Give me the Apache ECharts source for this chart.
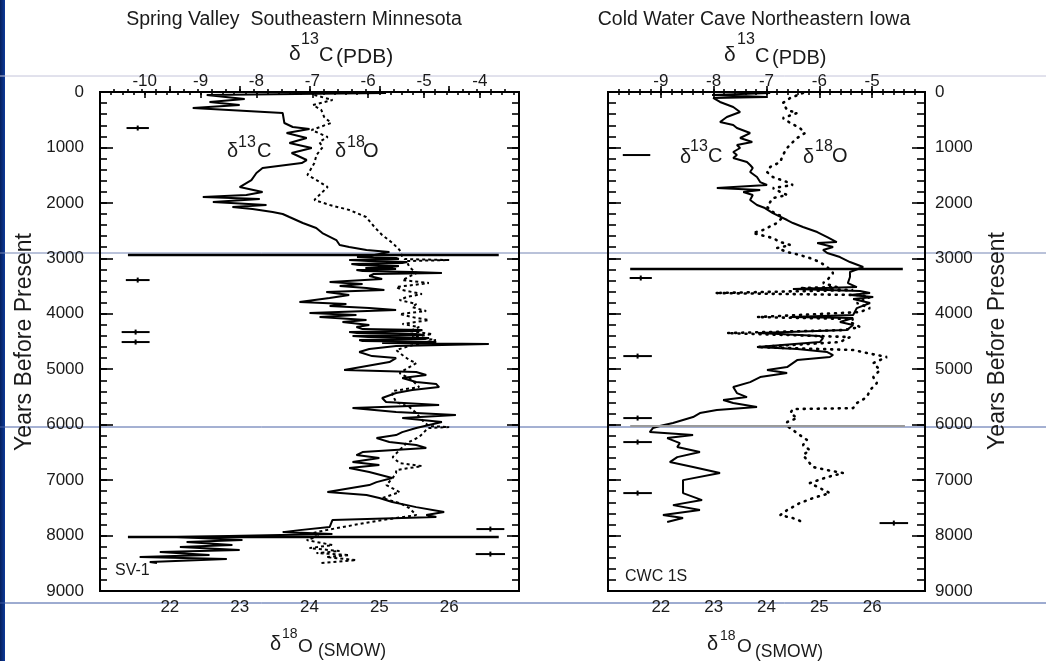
<!DOCTYPE html>
<html><head><meta charset="utf-8">
<script src="https://cdn.jsdelivr.net/npm/echarts@6/dist/echarts.min.js"></script>
<style>html,body{margin:0;padding:0;background:#fff}#c{width:1046px;height:661px}</style>
</head><body><div id="c"></div>
<script>
// ---------------- DATA ----------------
// [years before present, value]
const svC13 = [
[18,-5.68],[54,-8.89],[126,-8.21],[180,-8.84],[235,-8.30],[289,-9.14],[379,-7.53],[559,-7.50],[631,-7.35],[667,-7.05],[740,-7.46],[830,-7.10],[920,-7.41],[1010,-7.01],[1100,-7.37],[1227,-7.10],[1281,-7.19],[1371,-7.89],[1461,-8.00],[1588,-8.09],[1714,-8.30],[1804,-7.89],[1858,-8.18],[1894,-8.96],[1930,-7.94],[1984,-8.78],[2038,-7.82],[2074,-8.43],[2110,-8.07],[2164,-7.71],[2200,-7.53],[2255,-7.41],[2363,-7.17],[2453,-6.93],[2544,-6.82],[2670,-6.57],[2760,-6.51],[2796,-6.34],[2850,-6.03],[2886,-5.62],
[2959,-5.98],[2977,-6.20],[2995,-5.50],[3013,-5.45],[3031,-6.34],[3049,-6.00],[3067,-5.30],[3085,-5.39],[3103,-6.30],[3121,-6.16],[3139,-5.45],[3157,-5.57],[3175,-6.05],[3193,-5.50],[3211,-6.21],[3229,-6.10],[3247,-5.20],[3265,-4.68],[3283,-5.90],[3319,-5.98],[3373,-5.75],[3428,-6.69],[3464,-6.10],[3500,-6.51],[3536,-6.03],[3572,-5.71],[3608,-6.75],[3662,-6.34],[3716,-6.69],[3788,-7.23],[3824,-6.39],[3860,-6.69],[3897,-5.98],[3933,-5.50],[3987,-7.05],[4023,-6.21],[4059,-6.87],[4113,-6.03],[4149,-6.46],[4203,-5.98],[4239,-6.21],[4276,-6.10],[4294,-5.03],[4312,-5.10],[4330,-6.34],[4348,-6.20],[4366,-5.14],[4384,-5.00],[4402,-6.28],[4420,-6.00],[4438,-4.91],[4456,-5.00],[4474,-6.16],[4492,-6.10],[4510,-4.78],[4528,-5.75],[4546,-3.84],[4582,-5.50],[4636,-5.98],[4690,-6.16],[4763,-5.93],[4799,-5.50],[4871,-5.62],[5015,-6.43],[5051,-5.14],[5105,-4.96],[5159,-5.39],[5232,-5.14],[5268,-4.78],[5322,-4.73],[5376,-5.21],[5430,-5.50],[5520,-5.75],[5592,-5.68],[5647,-4.73],[5701,-6.28],[5773,-5.50],[5827,-4.43],[5881,-5.39],[5953,-4.68],[6007,-4.91],[6061,-5.14],[6134,-5.39],[6188,-5.50],[6242,-5.85],[6314,-5.62],[6368,-5.14],[6422,-4.96],[6494,-6.10],[6549,-6.21],[6603,-5.80],[6675,-6.28],[6729,-5.80],[6783,-6.34],[6855,-5.98],[6963,-5.57],[7036,-5.85],[7090,-5.98],[7216,-6.73],[7270,-6.03],[7324,-5.80],[7396,-5.57],[7487,-5.14],[7577,-4.64],[7631,-4.96],[7667,-4.78],[7721,-6.64],[7847,-6.69],[7902,-7.23],[7938,-7.53],[7974,-6.64],
[8028,-9.43],[8082,-8.25],[8118,-9.25],[8172,-8.43],[8208,-9.37],[8262,-8.30],[8298,-9.73],[8352,-8.84],[8389,-10.09],[8425,-8.53],[8479,-9.91],[8497,-9.78]
];
const svO18 = [
[54,24.07],[144,24.33],[234,24.05],[325,24.17],[451,24.21],[559,24.31],[685,24.03],[812,24.26],[902,24.14],[992,24.19],[1137,24.10],[1281,24.07],[1497,23.97],[1588,24.10],[1714,24.26],[1822,24.17],[1948,24.07],[2038,24.29],[2128,24.57],[2255,24.81],[2435,24.93],[2580,25.04],[2724,25.19],[2850,25.29],[2977,25.33],
[3013,25.36],[3031,26.00],[3049,25.39],[3157,25.43],[3265,25.53],[3392,25.33],[3446,25.71],[3518,25.24],[3572,25.33],[3644,25.61],[3698,25.39],[3752,25.29],[3824,25.53],[3879,25.47],[3951,25.67],[4005,25.29],[4059,25.47],[4113,25.71],[4185,25.33],[4239,25.57],[4312,25.43],[4366,25.76],[4420,25.47],[4474,25.81],[4528,25.61],[4582,25.43],[4654,25.24],[4744,25.33],[4835,25.43],[4889,25.53],[4961,25.43],[5069,25.29],[5196,25.47],[5322,25.57],[5394,25.19],[5466,25.19],[5592,25.24],[5683,25.43],[5791,25.53],[5917,25.61],[6025,25.71],[6043,26.00],[6061,25.70],[6097,25.67],[6224,25.57],[6332,25.39],[6458,25.29],[6585,25.19],[6693,25.29],[6747,25.61],[6819,25.24],[6873,25.24],[6963,25.19],[7090,25.10],[7216,25.29],[7324,25.04],[7414,25.29],[7505,25.43],[7631,25.53],[7721,25.04],[7793,24.71],[7847,24.47],[7902,24.24],[7956,24.04],[8010,24.14],[8082,23.96],[8172,24.33],[8226,24.00],[8280,24.43],[8316,24.10],[8352,24.57],[8389,24.24],[8443,24.67],[8497,24.14]
];
const cwcC13 = [
[18,-6.93],[54,-8.03],[90,-6.99],[108,-8.01],[180,-7.88],[271,-7.63],[361,-7.50],[451,-7.75],[541,-7.88],[595,-7.63],[649,-7.56],[740,-7.31],[830,-7.50],[902,-7.27],[956,-7.56],[1010,-7.50],[1082,-7.63],[1137,-7.56],[1191,-7.63],[1263,-7.37],[1317,-7.31],[1371,-7.26],[1443,-7.31],[1533,-7.18],[1624,-7.12],[1678,-6.99],[1732,-7.94],[1768,-7.12],[1804,-7.44],[1858,-7.26],[1948,-7.31],[2038,-7.18],[2093,-7.03],[2183,-6.88],[2309,-6.61],[2363,-6.50],[2435,-6.31],[2526,-6.04],[2616,-5.85],[2706,-5.67],[2724,-6.04],[2796,-5.74],[2850,-5.93],[2904,-5.85],[2977,-5.61],[3067,-5.42],[3157,-5.17],[3247,-5.42],[3337,-5.42],[3446,-5.46],[3518,-5.29],[3554,-6.50],[3590,-5.23],[3626,-5.04],[3662,-5.42],[3698,-4.98],[3734,-5.36],[3806,-5.04],[3897,-5.29],[4023,-5.36],[4059,-6.55],[4077,-5.36],[4149,-5.61],[4203,-5.36],[4294,-5.48],[4348,-7.16],[4402,-5.99],[4438,-5.93],[4510,-5.99],[4600,-7.18],[4636,-6.42],[4690,-5.85],[4744,-5.74],[4780,-5.80],[4835,-6.42],[4961,-6.61],[5015,-6.99],[5069,-6.61],[5141,-7.12],[5232,-7.31],[5322,-7.63],[5430,-7.56],[5502,-7.37],[5556,-7.82],[5610,-7.63],[5683,-7.18],[5737,-7.94],[5791,-8.26],[5863,-8.39],[5917,-8.58],[5971,-8.77],[6025,-9.02],[6061,-9.15],[6134,-9.21],[6188,-8.39],[6242,-8.88],[6332,-8.64],[6404,-8.69],[6494,-8.26],[6585,-8.69],[6675,-8.83],[6765,-8.39],[6873,-7.88],[7000,-8.58],[7126,-8.58],[7234,-8.58],[7360,-8.22],[7451,-8.77],[7541,-8.26],[7631,-8.96],[7685,-8.58],[7757,-8.88]
];
const cwcO18 = [
[18,24.69],[108,24.45],[198,24.31],[325,24.39],[379,24.58],[469,24.31],[559,24.45],[649,24.63],[740,24.73],[830,24.58],[920,24.48],[1010,24.39],[1137,24.31],[1263,24.26],[1353,24.07],[1443,24.01],[1533,24.12],[1624,24.39],[1678,24.50],[1732,24.12],[1804,24.26],[1858,24.39],[1912,24.12],[1984,24.07],[2074,24.01],[2164,24.12],[2255,24.31],[2363,24.20],[2490,23.93],[2544,23.74],[2634,24.12],[2706,24.26],[2760,24.45],[2814,24.20],[2886,24.39],[2940,24.63],[2995,24.82],[3067,25.01],[3157,25.15],[3265,25.26],[3392,25.15],[3446,25.07],[3518,25.33],[3536,24.63],[3572,25.64],[3626,23.03],[3662,25.77],[3698,25.96],[3806,25.71],[3897,25.96],[3969,25.77],[4059,23.82],[4095,25.64],[4149,25.58],[4239,25.77],[4294,25.45],[4348,23.25],[4420,25.58],[4510,25.39],[4600,23.82],[4654,25.64],[4744,26.09],[4780,26.28],[4889,26.02],[5015,26.15],[5141,26.02],[5250,26.09],[5376,25.96],[5502,25.90],[5610,25.71],[5701,25.64],[5719,24.50],[5791,24.45],[5881,24.58],[5953,24.39],[6025,24.39],[6097,24.50],[6188,24.63],[6278,24.77],[6368,24.69],[6458,24.82],[6549,24.69],[6639,24.77],[6765,24.88],[6819,25.15],[6873,25.45],[6945,25.15],[7054,24.82],[7144,25.01],[7234,25.20],[7324,24.88],[7414,24.63],[7541,24.39],[7631,24.26],[7685,24.50],[7757,24.69]
];
// age-control markers: [age, centre (d18O units), half-width, has centre tick]
const svAgeBars = [[650,21.54,0.16,1],[3392,21.54,0.17,1],[4330,21.51,0.2,1],[4510,21.51,0.2,1],[7883,26.59,0.2,1],[8334,26.59,0.21,1]];
const cwcAgeBars = [[1137,21.54,0.26,0],[3355,21.62,0.21,1],[4763,21.56,0.27,1],[5881,21.56,0.27,1],[6314,21.56,0.27,1],[7234,21.56,0.27,1],[7775,26.41,0.27,1]];
// highlighted events: [age, from, to] in d18O units
const svEvents = [[2940,21.4,26.71],[8028,21.4,26.71]];
const cwcEvents = [[3193,21.42,26.58]];
const cwcFaintEvents = [[6025,21.42,26.62]];
// tick labels
const ageLabels = [0,1000,2000,3000,4000,5000,6000,7000,8000,9000];
const o18Labels = [22,23,24,25,26];
const svC13Labels = [-10,-9,-8,-7,-6,-5,-4];
const cwcC13Labels = [-9,-8,-7,-6,-5];

// ---------------- CHART ----------------
const FONT = "'Liberation Sans', Arial, Helvetica, sans-serif";
function range(a,b,s){const r=[];for(let v=a; v<=b+1e-9; v+=s) r.push(+v.toFixed(4)); return r;}
function ax(grid,pos,min,max,ticks,len,labels,margin,inverse){
  return {type:'value',gridIndex:grid,position:pos,min:min,max:max,inverse:!!inverse,
    axisLine:{show:false},splitLine:{show:false},
    axisTick:{show:true,inside:true,length:len,customValues:ticks,lineStyle:{color:'#000',width:1.6}},
    axisLabel:labels?{show:true,customValues:labels,margin:margin,color:'#1a1a1a',fontSize:17,fontFamily:FONT,
      formatter:function(v){return String(v);}}:{show:false}};
}
const xAxes = [
  ax(0,'bottom',21,27,o18Labels,6,o18Labels,8),
  ax(0,'bottom',21,27,range(21.2,26.8,0.2),3,null),
  ax(0,'top',-10.8,-3.3,svC13Labels,6,svC13Labels,2),
  ax(0,'top',-10.8,-3.3,range(-10.6,-3.4,0.2),3,null),
  ax(1,'bottom',21,27,o18Labels,6,o18Labels,8),
  ax(1,'bottom',21,27,range(21.2,26.8,0.2),3,null),
  ax(1,'top',-10,-4,cwcC13Labels,6,cwcC13Labels,2),
  ax(1,'top',-10,-4,range(-9.8,-4.2,0.2),3,null)
];
const minorAge = range(200,8800,200);
const yAxes = [
  ax(0,'left',0,9000,ageLabels,13,ageLabels,16,true),
  ax(0,'left',0,9000,minorAge,7,null,0,true),
  ax(0,'right',0,9000,ageLabels,12,null,0,true),
  ax(0,'right',0,9000,minorAge,7,null,0,true),
  ax(1,'left',0,9000,ageLabels,13,null,0,true),
  ax(1,'left',0,9000,minorAge,8,null,0,true),
  ax(1,'right',0,9000,ageLabels,13,ageLabels,10,true),
  ax(1,'right',0,9000,minorAge,8,null,0,true)
];

function lineSeries(data,xi,yi,dash,w,cap){
  return {type:'line',xAxisIndex:xi,yAxisIndex:yi,data:data.map(d=>[d[1],d[0]]),
    symbol:'none',showSymbol:false,animation:false,z:5,
    lineStyle:{color:'#000',width:w,type:dash||'solid',cap:cap||'butt'}};
}
function barSeries(data,xi,yi){
  return {type:'custom',xAxisIndex:xi,yAxisIndex:yi,data:data,encode:{x:1,y:0},z:6,animation:false,
    renderItem:function(p,api){
      const a=api.value(0),c=api.value(1),h=api.value(2),t=api.value(3);
      const p1=api.coord([c-h,a]),p2=api.coord([c+h,a]),pc=api.coord([c,a]);
      const ch=[{type:'line',shape:{x1:p1[0],y1:p1[1],x2:p2[0],y2:p2[1]},style:{stroke:'#000',lineWidth:2}}];
      if(t) ch.push({type:'line',shape:{x1:pc[0],y1:pc[1]-2.5,x2:pc[0],y2:pc[1]+2.5},style:{stroke:'#000',lineWidth:2}});
      return {type:'group',children:ch};
    }};
}
function eventSeries(data,xi,yi,color,w){
  return {type:'custom',xAxisIndex:xi,yAxisIndex:yi,data:data,encode:{x:[1,2],y:0},z:7,animation:false,
    renderItem:function(p,api){
      const a=api.value(0);
      const p1=api.coord([api.value(1),a]),p2=api.coord([api.value(2),a]);
      return {type:'line',shape:{x1:p1[0],y1:p1[1],x2:p2[0],y2:p2[1]},style:{stroke:color,lineWidth:w}};
    }};
}

function T(x,y,text,size,align){
  return {type:'text',z:50,style:{x:x,y:y,text:text,font:size+'px '+FONT,fill:'#1a1a1a',textAlign:align||'left',textVerticalAlign:'middle'}};
}
function hline(y,color){
  return {type:'line',z:-10,shape:{x1:0,y1:y,x2:1046,y2:y},style:{stroke:color,lineWidth:1}};
}
const graphics = [
  {type:'rect',z:-10,shape:{x:0,y:0,width:5,height:661},style:{fill:new echarts.graphic.LinearGradient(0,0,1,0,[{offset:0,color:'#061f5c'},{offset:1,color:'#0d3a9a'}])}},
  hline(76,'#c4c4da'), hline(253,'#7585b4'), hline(427,'#4a62a6'), hline(603,'#3d58a2'),
  T(294,20,'Spring Valley  Southeastern Minnesota',19.5,'center'),
  T(754,20,'Cold Water Cave Northeastern Iowa',19.5,'center'),
  // top axis titles
  T(289,54,'δ',21), T(301,40,'13',16), T(319,55,'C',20), T(336,57,'(PDB)',21),
  T(724,55,'δ',21), T(737,40,'13',16), T(755,56,'C',20), T(772,58,'(PDB)',20),
  // bottom axis titles
  T(270,644,'δ',20), T(282,634,'18',14), T(298,647,'O',19), T(318,651,'(SMOW)',17.5),
  T(707,644,'δ',20), T(720,636,'18',14), T(737,647,'O',19), T(755,652,'(SMOW)',17.5),
  // in-plot labels
  T(227,151,'δ',20), T(238,143,'13',16), T(257,151,'C',20),
  T(335,151,'δ',20), T(347,143,'18',16), T(363,151,'O',20),
  T(680,157,'δ',20), T(690,147,'13',16), T(708,156,'C',20),
  T(803,157,'δ',20), T(815,147,'18',16), T(832,156,'O',20),
  T(115,571,'SV-1',16), T(625,577,'CWC 1S',16),
  {type:'text',z:50,x:25,y:342,rotation:Math.PI/2,style:{x:0,y:0,text:'Years Before Present',font:'23px '+FONT,fill:'#1a1a1a',textAlign:'center',textVerticalAlign:'middle'}},
  {type:'text',z:50,x:998,y:341,rotation:Math.PI/2,style:{x:0,y:0,text:'Years Before Present',font:'23px '+FONT,fill:'#1a1a1a',textAlign:'center',textVerticalAlign:'middle'}}
];

const option = {
  backgroundColor:'#fff',
  animation:false,
  grid:[
    {left:100,top:92,width:419,height:499,show:true,borderColor:'#000',borderWidth:2,backgroundColor:'transparent',containLabel:false,outerBoundsMode:'none'},
    {left:608,top:92,width:317,height:499,show:true,borderColor:'#000',borderWidth:2,backgroundColor:'transparent',containLabel:false,outerBoundsMode:'none'}
  ],
  xAxis:xAxes, yAxis:yAxes,
  series:[
    lineSeries(svO18,0,0,[3,3],2,'butt'),
    lineSeries(svC13,2,0,null,2),
    eventSeries(svEvents,0,0,'#000',2.5),
    barSeries(svAgeBars,0,0),
    lineSeries(cwcO18,4,4,[1,6],2.6,'round'),
    lineSeries(cwcC13,6,4,null,2),
    eventSeries(cwcEvents,4,4,'#000',2.5),
    eventSeries(cwcFaintEvents,4,4,'#9a9a9a',2),
    barSeries(cwcAgeBars,4,4)
  ],
  graphic:graphics
};
const chart = echarts.init(document.getElementById('c'));
chart.setOption(option);
</script></body></html>
